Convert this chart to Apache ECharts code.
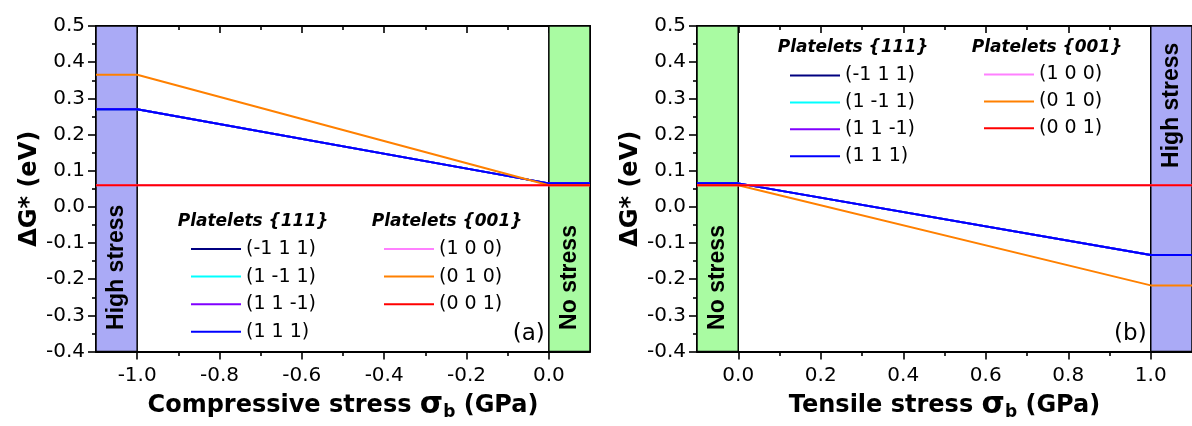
<!DOCTYPE html>
<html>
<head>
<meta charset="utf-8">
<script src="https://cdn.jsdelivr.net/npm/echarts@6/dist/echarts.min.js"></script>
<style>
html,body{margin:0;padding:0;background:#fff;}
#c{width:1192px;height:426px;}
</style>
</head>
<body>
<div id="c"></div>
<script>
// ---------- data ----------
const names111 = ['(-1 1 1)', '(1 -1 1)', '(1 1 -1)', '(1 1 1)'];
const names001 = ['(1 0 0)', '(0 1 0)', '(0 0 1)'];
const colors111 = ['#000080', '#00ffff', '#8000ff', '#0000ff'];
const colors001 = ['#ff80ff', '#ff8000', '#ff0000'];

// panel (a): compressive stress
const leftX = [-1.1, -1.0, 0.0, 0.1];
const leftG111 = [0.27, 0.27, 0.065, 0.065];
const left100 = [0.06, 0.06, 0.06, 0.06];
const left010 = [0.365, 0.365, 0.06, 0.06];
const left001 = [0.06, 0.06, 0.06, 0.06];

// panel (b): tensile stress
const rightX = [-0.1, 0.0, 1.0, 1.1];
const rightG111 = [0.065, 0.065, -0.133, -0.133];
const right100 = [0.06, 0.06, 0.06, 0.06];
const right010 = [0.06, 0.06, -0.217, -0.217];
const right001 = [0.06, 0.06, 0.06, 0.06];

// ticks
const leftMajorTicks = [-1.0, -0.8, -0.6, -0.4, -0.2, 0.0];
const leftMinorTicks = [-0.9, -0.7, -0.5, -0.3, -0.1];
const rightMajorTicks = [0.0, 0.2, 0.4, 0.6, 0.8, 1.0];
const rightMinorTicks = [0.1, 0.3, 0.5, 0.7, 0.9];
const yMin = -0.4, yMax = 0.5, yStep = 0.1;

// bands [x0, x1]
const leftHighBand = [-1.1, -1.0];
const leftNoBand = [0.0, 0.1];
const rightNoBand = [-0.1, 0.0];
const rightHighBand = [1.0, 1.1];

// ---------- helpers ----------
const BLUE_BAND = '#aaaaf6';
const GREEN_BAND = '#a9fba2';
const AXIS_W = 2;
const TICK_W = 1.6;
const fmt = v => (Math.abs(v) < 1e-9 ? '0.0' : v.toFixed(1));
const zip = (xs, ys) => xs.map((x, i) => [x, ys[i]]);

function xAxes(grid, min, max, major, minor, title) {
  const base = {
    gridIndex: grid, type: 'value', min: min, max: max,
    splitLine: {show: false},
    axisLine: {show: true, onZero: false, lineStyle: {color: '#000', width: AXIS_W}}
  };
  const hidden = {show: false, onZero: false};
  return [
    Object.assign({}, base, {
      position: 'bottom',
      axisTick: {show: true, customValues: major, length: 8, lineStyle: {color: '#000', width: TICK_W}},
      axisLabel: {show: true, customValues: major, formatter: fmt, margin: 14,
        fontFamily: 'DejaVu Sans', fontSize: 20, color: '#000'},
      name: title, nameLocation: 'middle', nameGap: 37,
      nameTextStyle: {
        fontFamily: 'DejaVu Sans', fontWeight: 'bold', fontSize: 24, color: '#000',
        rich: {
          s: {fontFamily: 'DejaVu Sans', fontWeight: 'bold', fontSize: 30, color: '#000'},
          b: {fontFamily: 'DejaVu Sans', fontWeight: 'bold', fontSize: 17, color: '#000', padding: [14, 0, 0, 0]}
        }
      }
    }),
    Object.assign({}, base, {
      position: 'bottom', axisLine: hidden,
      axisTick: {show: true, customValues: minor, length: 4.5, lineStyle: {color: '#000', width: TICK_W}},
      axisLabel: {show: false}
    }),
    Object.assign({}, base, {
      position: 'top',
      axisTick: {show: true, inside: true, customValues: major, length: 7, lineStyle: {color: '#000', width: TICK_W}},
      axisLabel: {show: false}
    }),
    Object.assign({}, base, {
      position: 'top', axisLine: hidden,
      axisTick: {show: true, inside: true, customValues: minor, length: 4, lineStyle: {color: '#000', width: TICK_W}},
      axisLabel: {show: false}
    })
  ];
}

function yAxes(grid) {
  return [
    {
      gridIndex: grid, type: 'value', position: 'left', min: yMin, max: yMax, interval: yStep,
      splitLine: {show: false},
      axisLine: {show: true, onZero: false, lineStyle: {color: '#000', width: AXIS_W}},
      axisTick: {show: true, length: 8, lineStyle: {color: '#000', width: TICK_W}},
      minorTick: {show: true, splitNumber: 2, length: 4, lineStyle: {color: '#000', width: TICK_W}},
      axisLabel: {formatter: fmt, margin: 11, fontFamily: 'DejaVu Sans', fontSize: 20, color: '#000'},
      name: 'ΔG* (eV)', nameLocation: 'middle', nameRotate: 90, nameGap: 54,
      nameTextStyle: {fontFamily: 'DejaVu Sans', fontWeight: 'bold', fontSize: 24, color: '#000'}
    },
    {
      gridIndex: grid, type: 'value', position: 'right', min: yMin, max: yMax, interval: yStep,
      splitLine: {show: false},
      axisLine: {show: true, onZero: false, lineStyle: {color: '#000', width: AXIS_W}},
      axisTick: {show: false}, axisLabel: {show: false}
    }
  ];
}

function bandSeries(xi, yi, bands) {
  return {
    type: 'line', name: 'bands' + xi, data: [], xAxisIndex: xi, yAxisIndex: yi, z: 1, silent: true,
    markArea: {
      silent: true,
      label: {show: false},
      data: bands.map(b => [
        {xAxis: b.x[0], yAxis: yMin, itemStyle: {color: b.color, borderColor: '#000', borderWidth: 1.5}},
        {xAxis: b.x[1], yAxis: yMax}
      ])
    }
  };
}

function lineSeries(name, color, xs, ys, xi, yi) {
  return {
    type: 'line', name: name, data: zip(xs, ys), xAxisIndex: xi, yAxisIndex: yi,
    symbol: 'none', showSymbol: false, z: 2,
    lineStyle: {color: color, width: 2}, itemStyle: {color: color}
  };
}

const series = [];
series.push(bandSeries(0, 0, [{x: leftHighBand, color: BLUE_BAND}, {x: leftNoBand, color: GREEN_BAND}]));
names111.forEach((n, i) => series.push(lineSeries(n, colors111[i], leftX, leftG111, 0, 0)));
[left100, left010, left001].forEach((d, i) => series.push(lineSeries(names001[i], colors001[i], leftX, d, 0, 0)));
series.push(bandSeries(4, 2, [{x: rightNoBand, color: GREEN_BAND}, {x: rightHighBand, color: BLUE_BAND}]));
names111.forEach((n, i) => series.push(lineSeries(n, colors111[i], rightX, rightG111, 4, 2)));
[right100, right010, right001].forEach((d, i) => series.push(lineSeries(names001[i], colors001[i], rightX, d, 4, 2)));

function legend(left, top, data, gap) {
  return {
    orient: 'vertical', left: left, top: top, padding: 0, itemWidth: 50, itemHeight: 19, itemGap: gap,
    data: data, selectedMode: false,
    itemStyle: {opacity: 0},
    lineStyle: {width: 2},
    textStyle: {fontFamily: 'DejaVu Sans', fontSize: 19, color: '#000', lineHeight: 19}
  };
}

const titleFont = 'italic bold 17px "DejaVu Sans"';
function txt(x, y, text, font, align, rotation) {
  return {
    type: 'text', x: x, y: y, rotation: rotation || 0, silent: true, z: 100,
    style: {text: text, font: font, fill: '#000', align: align || 'center', verticalAlign: 'middle'}
  };
}

const chart = echarts.init(document.getElementById('c'), null, {renderer: 'canvas'});
chart.setOption({
  animation: false,
  backgroundColor: '#fff',
  grid: [
    {left: 96, top: 26, width: 494, height: 329, containLabel: false},
    {left: 697, top: 26, width: 497, height: 329, containLabel: false}
  ],
  xAxis: [].concat(
    xAxes(0, -1.1, 0.1, leftMajorTicks, leftMinorTicks, 'Compressive stress {s|σ}{b|b} (GPa)'),
    xAxes(1, -0.1, 1.1, rightMajorTicks, rightMinorTicks, 'Tensile stress {s|σ}{b|b} (GPa)')
  ),
  yAxis: [].concat(yAxes(0), yAxes(1)),
  legend: [
    legend(190, 239.5, names111, 8.6),
    legend(383, 239.5, names001, 8.6),
    legend(789, 66, names111, 7.9),
    legend(983, 65, names001, 7.9)
  ],
  series: series
});

// annotations anchored to data coordinates
const pL = v => chart.convertToPixel({seriesIndex: 1}, v);
const pR = v => chart.convertToPixel({seriesIndex: 9}, v);
const bandFont = 'bold 23px "Liberation Sans", Arial, sans-serif';
const a1 = pL([(leftHighBand[0] + leftHighBand[1]) / 2, -0.34]);
const a2 = pL([(leftNoBand[0] + leftNoBand[1]) / 2, -0.34]);
const b1 = pR([(rightNoBand[0] + rightNoBand[1]) / 2, -0.34]);
const b2 = pR([(rightHighBand[0] + rightHighBand[1]) / 2, 0.454]);
const la = pL([-0.01, -0.351]);
const lb = pR([0.99, -0.351]);

chart.setOption({
  graphic: [
    txt(a1[0], a1[1], 'High stress', bandFont, 'left', Math.PI / 2),
    txt(a2[0], a2[1], 'No stress', bandFont, 'left', Math.PI / 2),
    txt(b1[0], b1[1], 'No stress', bandFont, 'left', Math.PI / 2),
    txt(b2[0], b2[1], 'High stress', bandFont, 'right', Math.PI / 2),
    txt(la[0], la[1], '(a)', '23px "DejaVu Sans"', 'right'),
    txt(lb[0], lb[1], '(b)', '23px "DejaVu Sans"', 'right'),
    txt(253, 222, 'Platelets {111}', titleFont),
    txt(447, 222, 'Platelets {001}', titleFont),
    txt(853, 48, 'Platelets {111}', titleFont),
    txt(1047, 48, 'Platelets {001}', titleFont)
  ]
});
</script>
</body>
</html>
